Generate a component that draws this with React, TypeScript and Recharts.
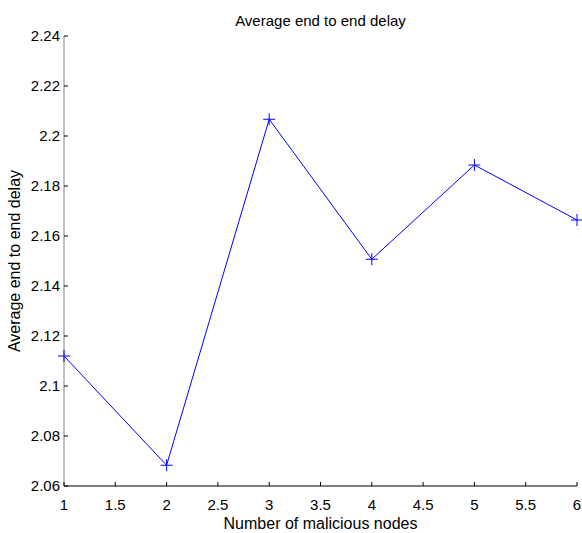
import { Label, Line, LineChart, XAxis, YAxis } from 'recharts'

const nodes = [1, 2, 3, 4, 5, 6]
const delay = [2.112, 2.0683, 2.2067, 2.1507, 2.1884, 2.1664]
const xTicks = [1, 1.5, 2, 2.5, 3, 3.5, 4, 4.5, 5, 5.5, 6]
const yTicks = [2.06, 2.08, 2.1, 2.12, 2.14, 2.16, 2.18, 2.2, 2.22, 2.24]

const data = nodes.map((n, i) => ({ nodes: n, delay: delay[i] }))

const FONT = '"Liberation Sans", Arial, sans-serif'

function YTick({ x, y, payload }: any) {
  return (
    <g>
      <line x1={x + 4} x2={x + 8} y1={y} y2={y} stroke="#000" />
      <text x={x} y={y} dy={5} textAnchor="end" fontSize={15} fontFamily={FONT} fill="#000">
        {payload.value}
      </text>
    </g>
  )
}

function XTick({ x, y, payload }: any) {
  return (
    <g>
      <line x1={x} x2={x} y1={y - 4} y2={y - 8} stroke="#000" />
      <text x={x} y={y} dy={20} textAnchor="middle" fontSize={15} fontFamily={FONT} fill="#000">
        {payload.value}
      </text>
    </g>
  )
}

function PlusDot({ cx, cy }: any) {
  return (
    <g stroke="#0000FF" strokeWidth={1}>
      <line x1={cx - 6} x2={cx + 6} y1={cy} y2={cy} />
      <line x1={cx} x2={cx} y1={cy - 6} y2={cy + 6} />
    </g>
  )
}

export default function App() {
  return (
    <div style={{ position: 'absolute', left: 0, top: 0, width: 582, height: 533, background: '#fff' }}>
      <div
        style={{
          position: 'absolute',
          left: 64,
          width: 513,
          top: 12,
          textAlign: 'center',
          fontFamily: FONT,
          fontSize: 15,
          lineHeight: '18px',
          color: '#000',
        }}
      >
        Average end to end delay
      </div>
      <LineChart width={582} height={533} data={data} margin={{ top: 36, right: 5, bottom: 0, left: 0 }}>
        <XAxis
          dataKey="nodes"
          type="number"
          domain={[1, 6]}
          ticks={xTicks}
          allowDecimals
          height={47}
          stroke="#000"
          tickSize={0}
          tickMargin={4}
          tick={<XTick />}
        >
          <Label
            value="Number of malicious nodes"
            position="insideBottom"
            offset={4}
            style={{ fontFamily: FONT, fontSize: 16, fill: '#000' }}
          />
        </XAxis>
        <YAxis
          type="number"
          domain={[2.06, 2.24]}
          ticks={yTicks}
          width={64}
          stroke="#808080"
          tickSize={0}
          tickMargin={4}
          tick={<YTick />}
          allowDataOverflow
        >
          <Label
            value="Average end to end delay"
            angle={-90}
            position="insideLeft"
            offset={14}
            style={{ fontFamily: FONT, fontSize: 16, fill: '#000', textAnchor: 'middle' }}
          />
        </YAxis>
        <Line
          dataKey="delay"
          stroke="#0000FF"
          strokeWidth={1}
          dot={<PlusDot />}
          activeDot={false}
          isAnimationActive={false}
        />
      </LineChart>
    </div>
  )
}
